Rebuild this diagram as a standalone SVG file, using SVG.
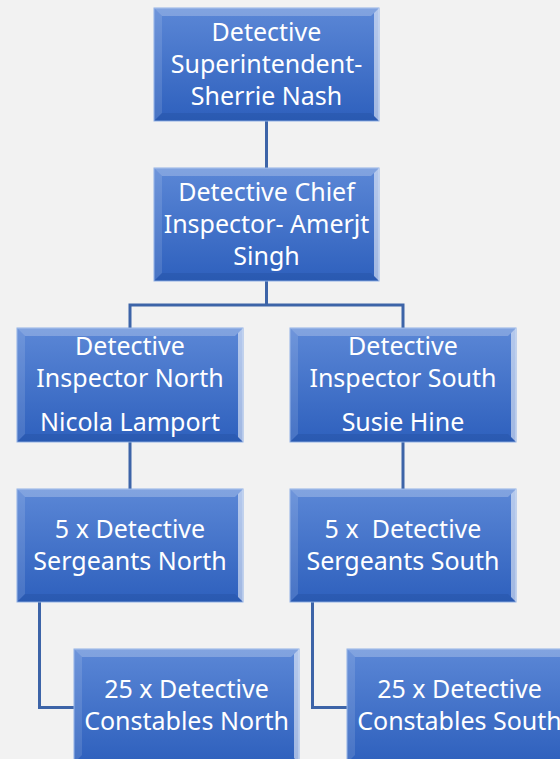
<svg xmlns="http://www.w3.org/2000/svg" width="560" height="759" viewBox="0 0 560 759">
<defs>
<linearGradient id="fillG" x1="0" y1="0" x2="0" y2="1">
<stop offset="0" stop-color="#5b87d6"/>
<stop offset="1" stop-color="#2e60bd"/>
</linearGradient>
<style>
.bg{fill:#f2f2f2}
.box{fill:url(#fillG);stroke:#8fb0e6;stroke-width:1}
.bt{fill:#ffffff;fill-opacity:0.24}
.bl{fill:#ffffff;fill-opacity:0.12}
.br{fill:#ffffff;fill-opacity:0.55}
.bb{fill:#001a50;fill-opacity:0.10}
.lbl{font-family:"Noto Sans","Open Sans","DejaVu Sans",sans-serif;font-size:25px;fill:#ffffff;text-anchor:middle}
.conn{fill:none;stroke:#3d64a8;stroke-width:3}
</style>
</defs>
<rect class="bg" x="0" y="0" width="560" height="759"/>
<g id="connectors">
<path class="conn" d="M266.5 121 V168"/>
<path class="conn" d="M266.5 281 V305 M130 328 V305 H403 V328"/>
<path class="conn" d="M130 442 V489"/>
<path class="conn" d="M403 442 V489"/>
<path class="conn" d="M39.5 602 V707.5 H74"/>
<path class="conn" d="M312.5 602 V707.5 H348"/>
</g>
<g id="n1">
<rect class="box" x="154" y="8" width="225" height="113"/>
<polygon class="bt" points="154,8 379,8 371,16 162,16"/>
<polygon class="bl" points="154,8 162,16 162,113 154,121"/>
<polygon class="br" points="379,8 379,121 374,116 374,13"/>
<polygon class="bb" points="154,121 379,121 371,113 162,113"/>
<text class="lbl" x="266.5" y="41">Detective</text>
<text class="lbl" x="266.5" y="73">Superintendent-</text>
<text class="lbl" x="266.5" y="105">Sherrie Nash</text>
</g>
<g id="n2">
<rect class="box" x="154" y="168" width="225" height="113"/>
<polygon class="bt" points="154,168 379,168 371,176 162,176"/>
<polygon class="bl" points="154,168 162,176 162,273 154,281"/>
<polygon class="br" points="379,168 379,281 374,276 374,173"/>
<polygon class="bb" points="154,281 379,281 371,273 162,273"/>
<text class="lbl" x="266.5" y="201">Detective Chief</text>
<text class="lbl" x="266.5" y="233">Inspector- Amerjt</text>
<text class="lbl" x="266.5" y="265">Singh</text>
</g>
<g id="n3">
<rect class="box" x="17" y="328" width="226" height="114"/>
<polygon class="bt" points="17,328 243,328 235,336 25,336"/>
<polygon class="bl" points="17,328 25,336 25,434 17,442"/>
<polygon class="br" points="243,328 243,442 238,437 238,333"/>
<polygon class="bb" points="17,442 243,442 235,434 25,434"/>
<text class="lbl" x="130" y="355">Detective</text>
<text class="lbl" x="130" y="387">Inspector North</text>
<text class="lbl" x="130" y="431">Nicola Lamport</text>
</g>
<g id="n4">
<rect class="box" x="290" y="328" width="226" height="114"/>
<polygon class="bt" points="290,328 516,328 508,336 298,336"/>
<polygon class="bl" points="290,328 298,336 298,434 290,442"/>
<polygon class="br" points="516,328 516,442 511,437 511,333"/>
<polygon class="bb" points="290,442 516,442 508,434 298,434"/>
<text class="lbl" x="403" y="355">Detective</text>
<text class="lbl" x="403" y="387">Inspector South</text>
<text class="lbl" x="403" y="431">Susie Hine</text>
</g>
<g id="n5">
<rect class="box" x="17" y="489" width="226" height="113"/>
<polygon class="bt" points="17,489 243,489 235,497 25,497"/>
<polygon class="bl" points="17,489 25,497 25,594 17,602"/>
<polygon class="br" points="243,489 243,602 238,597 238,494"/>
<polygon class="bb" points="17,602 243,602 235,594 25,594"/>
<text class="lbl" x="130" y="538">5 x Detective</text>
<text class="lbl" x="130" y="570">Sergeants North</text>
</g>
<g id="n6">
<rect class="box" x="290" y="489" width="226" height="113"/>
<polygon class="bt" points="290,489 516,489 508,497 298,497"/>
<polygon class="bl" points="290,489 298,497 298,594 290,602"/>
<polygon class="br" points="516,489 516,602 511,597 511,494"/>
<polygon class="bb" points="290,602 516,602 508,594 298,594"/>
<text class="lbl" x="403" y="538" xml:space="preserve">5 x  Detective</text>
<text class="lbl" x="403" y="570">Sergeants South</text>
</g>
<g id="n7">
<rect class="box" x="74" y="649" width="225" height="114"/>
<polygon class="bt" points="74,649 299,649 291,657 82,657"/>
<polygon class="bl" points="74,649 82,657 82,755 74,763"/>
<polygon class="br" points="299,649 299,763 294,758 294,654"/>
<text class="lbl" x="186.5" y="698">25 x Detective</text>
<text class="lbl" x="186.5" y="730">Constables North</text>
</g>
<g id="n8">
<rect class="box" x="347" y="649" width="225" height="114"/>
<polygon class="bt" points="347,649 572,649 564,657 355,657"/>
<polygon class="bl" points="347,649 355,657 355,755 347,763"/>
<text class="lbl" x="459.5" y="698">25 x Detective</text>
<text class="lbl" x="459.5" y="730">Constables South</text>
</g>
</svg>
